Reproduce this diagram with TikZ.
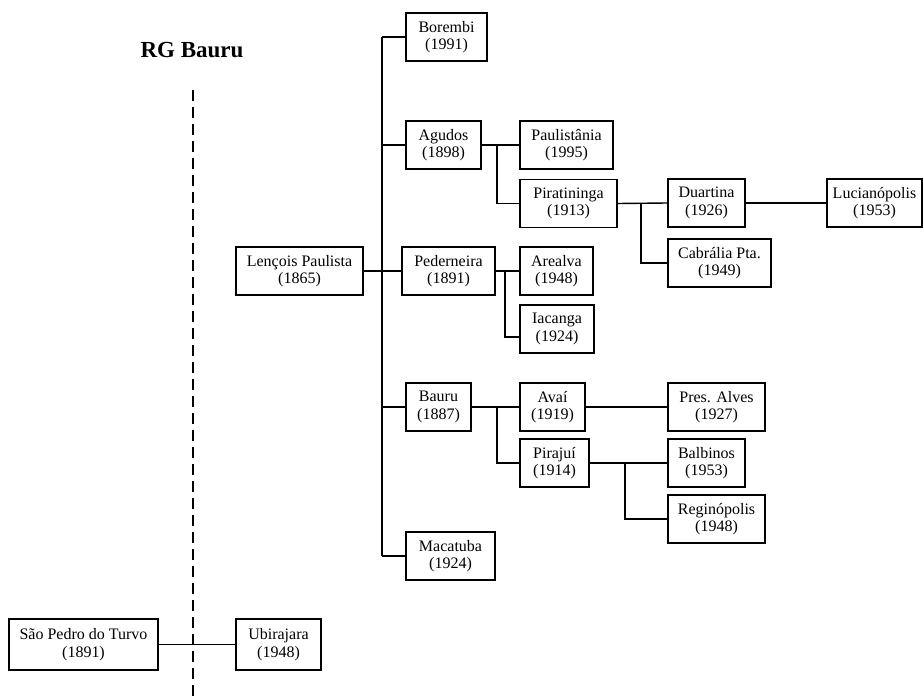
\documentclass[tikz,border=0pt]{standalone}
\usepackage{fontspec}
\setmainfont{Liberation Serif}
\begin{document}
\begin{tikzpicture}[x=1pt,y=-1pt,
  town/.style={draw=black, line width=1.4pt, fill=white, rectangle, inner sep=0pt,
    minimum height=48pt, align=center, font=\fontsize{16}{17.5}\selectfont},
  link/.style={line width=1.4pt},
  border/.style={line width=1.6pt, dash pattern=on 11pt off 6pt}]
\useasboundingbox (0,0) rectangle (924,698);

% title and regional border
\node[font=\fontsize{23}{26}\selectfont\bfseries] (title) at (192,50) {RG Bauru};
\coordinate (btop) at (193,90);
\coordinate (bbot) at (193,698);
\draw[border] (btop) -- (bbot);

% trunk from Lençois Paulista
\node[town, minimum width=127pt] (lp) at (299.5,271) {Lençois Paulista\\(1865)};
\node[town, minimum width=81pt] (bor) at (446.5,37) {Borembi\\(1991)};
\node[town, minimum width=75pt] (agu) at (443.5,145) {Agudos\\(1898)};
\node[town, minimum width=93pt] (ped) at (448.5,271) {Pederneira\\(1891)};
\node[town, minimum width=65pt] (bau) at (438.5,407) {Bauru\\(1887)};
\node[town, minimum width=89pt] (mac) at (450.5,556) {Macatuba\\(1924)};

% second level
\node[town, minimum width=93pt] (pau) at (566.5,145) {Paulistânia\\(1995)};
\node[town, minimum width=97pt] (pir) at (568.5,203.5) {Piratininga\\(1913)};
\node[town, minimum width=73pt] (are) at (556.5,271) {Arealva\\(1948)};
\node[town, minimum width=74pt] (iac) at (557,329) {Iacanga\\(1924)};
\node[town, minimum width=65pt] (ava) at (552.5,407) {Avaí\\(1919)};
\node[town, minimum width=69pt] (pij) at (554.5,463) {Pirajuí\\(1914)};

% third and fourth level
\node[town, minimum width=77pt] (due) at (706.5,203) {Duartina\\(1926)};
\node[town, minimum width=103pt] (cab) at (719.5,263) {Cabrália Pta.\\(1949)};
\node[town, minimum width=95pt] (luc) at (874.5,203) {Lucianópolis\\(1953)};
\node[town, minimum width=97pt] (pal) at (716.5,407) {Pres. Alves\\(1927)};
\node[town, minimum width=77pt] (bal) at (706.5,463) {Balbinos\\(1953)};
\node[town, minimum width=97pt] (reg) at (716.5,519) {Reginópolis\\(1948)};

% across the border
\node[town, minimum width=149pt, minimum height=51pt] (spt) at (83.5,644.5) {São Pedro do Turvo\\(1891)};
\node[town, minimum width=85pt, minimum height=51pt] (ubi) at (278.5,644.5) {Ubirajara\\(1948)};

% junction columns
\coordinate (t1) at (382,37);
\coordinate (t2) at (382,556);
\coordinate (ab) at (497,0);
\coordinate (pb) at (505,0);
\coordinate (rb) at (641,0);
\coordinate (bb) at (497,0);
\coordinate (jb) at (625,0);

% connectors
\draw[link] (t1) -- (t2);
\draw[link] (lp.east) -- (lp.east -| t1);
\draw[link] (bor.west) -- (bor.west -| t1);
\draw[link] (agu.west) -- (agu.west -| t1);
\draw[link] (ped.west) -- (ped.west -| t1);
\draw[link] (bau.west) -- (bau.west -| t1);
\draw[link] (mac.west) -- (mac.west -| t1);

\draw[link] (agu.east) -- (pau.west);
\draw[link] (ab |- agu.east) |- (pir.west);
\draw[link] (ped.east) -- (are.west);
\draw[link] (pb |- ped.east) |- ([yshift=-8pt]iac.west);
\draw[link] (pir.east) -- (due.west);
\draw[link] (rb |- pir.east) |- (cab.west);
\draw[link] (due.east) -- (luc.west);

\draw[link] (bau.east) -- (ava.west);
\draw[link] (bb |- bau.east) |- (pij.west);
\draw[link] (ava.east) -- (pal.west);
\draw[link] (pij.east) -- (bal.west);
\draw[link] (jb |- pij.east) |- (reg.west);

\draw[link] (spt.east) -- (ubi.west);
\end{tikzpicture}
\end{document}
